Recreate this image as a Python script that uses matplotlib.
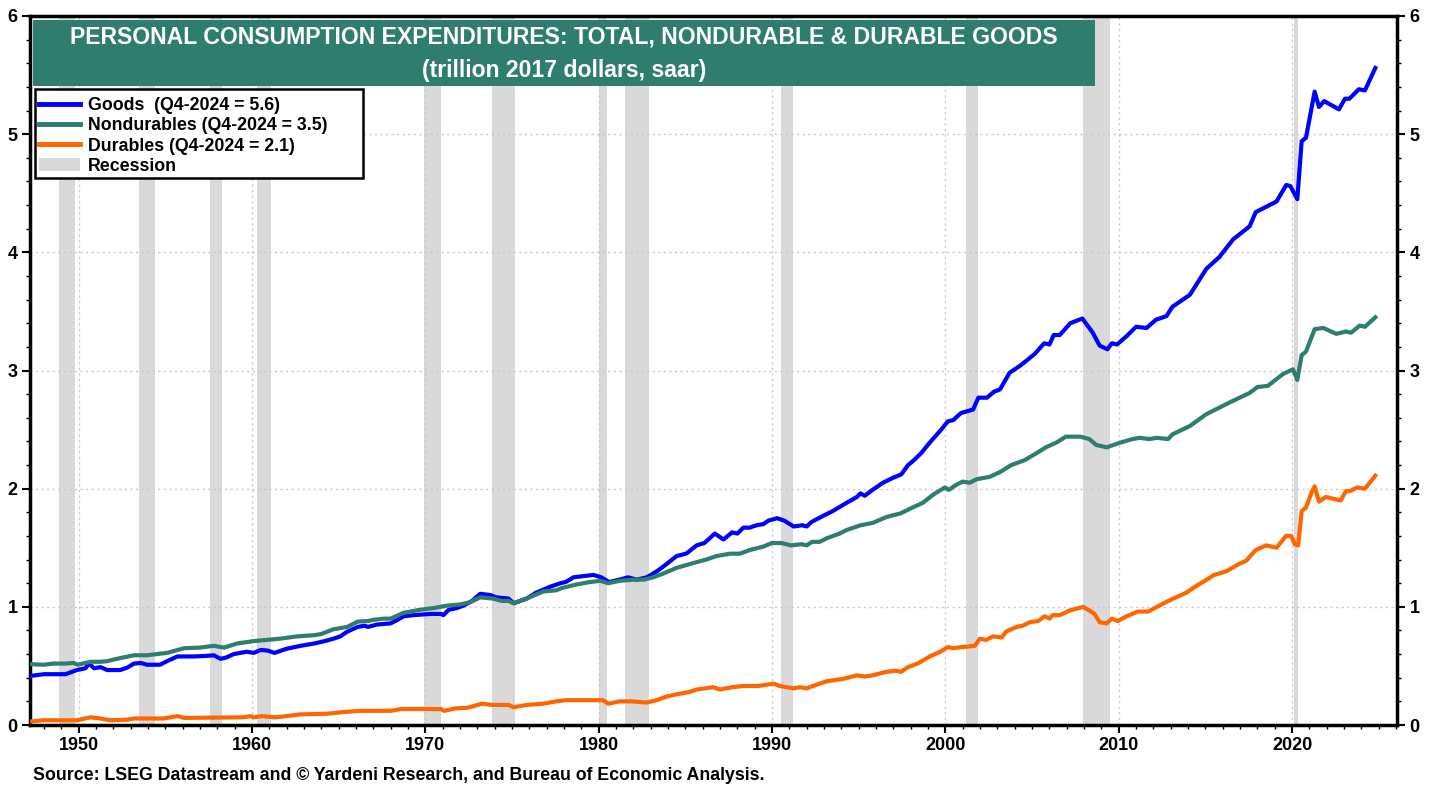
import matplotlib
matplotlib.use("Agg")
import matplotlib.pyplot as plt
import numpy as np
from matplotlib.lines import Line2D
from matplotlib.patches import Patch, Rectangle
from matplotlib.ticker import MultipleLocator

# (year, trillion 2017 dollars)
goods = [
    (1947.2, 0.415), (1948.0, 0.43), (1949.25, 0.43), (1949.9, 0.465), (1950.4, 0.48),
    (1950.6, 0.52), (1950.9, 0.48), (1951.27, 0.49), (1951.65, 0.465), (1952.4, 0.465),
    (1952.8, 0.485), (1953.2, 0.52), (1953.6, 0.525), (1953.95, 0.51), (1954.7, 0.51),
    (1955.1, 0.54), (1955.7, 0.58), (1956.65, 0.58), (1957.4, 0.585), (1957.8, 0.59),
    (1958.2, 0.56), (1958.5, 0.57), (1958.95, 0.60), (1959.7, 0.62), (1960.1, 0.61),
    (1960.5, 0.635), (1960.9, 0.63), (1961.3, 0.61), (1962.0, 0.645), (1962.8, 0.67),
    (1963.6, 0.69), (1964.2, 0.71), (1964.7, 0.73), (1965.1, 0.75), (1965.5, 0.79),
    (1966.1, 0.83), (1966.5, 0.84), (1966.7, 0.83), (1967.2, 0.85), (1968.0, 0.86),
    (1968.4, 0.89), (1968.75, 0.92), (1969.35, 0.93), (1970.3, 0.94), (1970.9, 0.94),
    (1971.05, 0.93), (1971.35, 0.975), (1971.83, 0.99), (1972.2, 1.01), (1972.7, 1.05),
    (1973.17, 1.11), (1973.75, 1.10), (1974.1, 1.08), (1974.8, 1.07), (1975.1, 1.03),
    (1975.85, 1.07), (1976.4, 1.12), (1977.2, 1.17), (1977.8, 1.20), (1978.1, 1.21),
    (1978.55, 1.25), (1979.1, 1.26), (1979.7, 1.27), (1980.15, 1.25), (1980.6, 1.21),
    (1981.2, 1.23), (1981.7, 1.25), (1982.2, 1.23), (1982.78, 1.25), (1983.35, 1.30),
    (1983.9, 1.36), (1984.5, 1.43), (1985.05, 1.45), (1985.65, 1.52), (1986.1, 1.54),
    (1986.7, 1.62), (1987.2, 1.57), (1987.7, 1.63), (1988.0, 1.62), (1988.35, 1.67),
    (1988.7, 1.67), (1989.1, 1.69), (1989.5, 1.70), (1989.8, 1.73), (1990.3, 1.75),
    (1990.7, 1.73), (1991.25, 1.68), (1991.75, 1.69), (1992.0, 1.68), (1992.3, 1.72),
    (1992.95, 1.77), (1993.5, 1.81), (1994.3, 1.88), (1994.9, 1.93), (1995.1, 1.96),
    (1995.35, 1.94), (1995.8, 1.99), (1996.4, 2.05), (1996.95, 2.09), (1997.45, 2.12),
    (1997.85, 2.20), (1998.1, 2.23), (1998.6, 2.30), (1999.1, 2.39), (1999.7, 2.49),
    (2000.15, 2.57), (2000.45, 2.58), (2000.9, 2.64), (2001.6, 2.67), (2001.9, 2.77),
    (2002.4, 2.77), (2002.8, 2.82), (2003.15, 2.84), (2003.7, 2.98), (2004.4, 3.05),
    (2005.15, 3.14), (2005.7, 3.23), (2006.0, 3.22), (2006.25, 3.30), (2006.6, 3.30),
    (2007.2, 3.40), (2007.9, 3.44), (2008.2, 3.38), (2008.5, 3.32), (2008.9, 3.21),
    (2009.35, 3.18), (2009.6, 3.23), (2009.9, 3.22), (2010.45, 3.29), (2011.0, 3.37),
    (2011.6, 3.36), (2012.15, 3.43), (2012.75, 3.46), (2013.1, 3.54), (2014.1, 3.64),
    (2015.05, 3.86), (2015.8, 3.96), (2016.6, 4.11), (2017.55, 4.22), (2017.9, 4.34),
    (2019.1, 4.43), (2019.66, 4.57), (2019.9, 4.56), (2020.3, 4.45), (2020.55, 4.94),
    (2020.8, 4.97), (2021.3, 5.36), (2021.55, 5.23), (2021.85, 5.28), (2022.7, 5.21),
    (2023.05, 5.30), (2023.3, 5.30), (2023.85, 5.38), (2024.2, 5.37), (2024.8, 5.56),
]

nondurables = [
    (1947.2, 0.515), (1948.0, 0.51), (1948.55, 0.52), (1949.3, 0.52), (1949.7, 0.525),
    (1949.95, 0.51), (1950.7, 0.535), (1951.27, 0.535), (1951.65, 0.54), (1952.2, 0.56),
    (1953.2, 0.59), (1953.95, 0.59), (1954.5, 0.60), (1955.1, 0.61), (1956.1, 0.65),
    (1957.0, 0.655), (1957.8, 0.67), (1958.4, 0.655), (1959.15, 0.69), (1960.1, 0.71),
    (1960.85, 0.72), (1961.6, 0.73), (1962.6, 0.75), (1963.6, 0.76), (1964.0, 0.77),
    (1964.7, 0.81), (1965.5, 0.83), (1966.1, 0.875), (1966.7, 0.88), (1967.0, 0.89),
    (1967.6, 0.90), (1968.0, 0.90), (1968.75, 0.95), (1969.7, 0.975), (1970.5, 0.99),
    (1971.25, 1.01), (1972.0, 1.02), (1972.6, 1.04), (1973.17, 1.08), (1973.9, 1.07),
    (1974.4, 1.05), (1974.8, 1.05), (1975.1, 1.03), (1975.85, 1.07), (1976.8, 1.13),
    (1977.55, 1.14), (1977.9, 1.16), (1978.75, 1.19), (1979.5, 1.21), (1980.1, 1.22),
    (1980.56, 1.20), (1981.2, 1.22), (1982.0, 1.23), (1982.6, 1.23), (1983.15, 1.25),
    (1983.7, 1.28), (1984.5, 1.33), (1985.45, 1.37), (1986.2, 1.40), (1986.8, 1.43),
    (1987.6, 1.45), (1988.15, 1.45), (1988.7, 1.48), (1989.5, 1.51), (1990.0, 1.54),
    (1990.55, 1.54), (1991.1, 1.52), (1991.7, 1.53), (1992.0, 1.52), (1992.3, 1.55),
    (1992.75, 1.55), (1993.15, 1.58), (1993.9, 1.62), (1994.3, 1.65), (1995.1, 1.69),
    (1995.8, 1.71), (1996.6, 1.76), (1997.4, 1.79), (1998.1, 1.84), (1998.7, 1.88),
    (1999.3, 1.95), (1999.97, 2.01), (2000.2, 1.99), (2000.6, 2.03), (2001.0, 2.06),
    (2001.4, 2.05), (2001.8, 2.08), (2002.55, 2.10), (2003.15, 2.14), (2003.8, 2.20),
    (2004.55, 2.24), (2005.25, 2.30), (2005.8, 2.35), (2006.4, 2.39), (2006.95, 2.44),
    (2007.8, 2.44), (2008.3, 2.42), (2008.7, 2.37), (2009.3, 2.35), (2010.1, 2.39),
    (2010.8, 2.42), (2011.2, 2.43), (2011.75, 2.42), (2012.2, 2.43), (2012.85, 2.42),
    (2013.1, 2.46), (2014.1, 2.53), (2015.05, 2.63), (2016.4, 2.73), (2017.55, 2.81),
    (2018.0, 2.86), (2018.6, 2.87), (2019.47, 2.97), (2020.05, 3.01), (2020.3, 2.92),
    (2020.55, 3.13), (2020.8, 3.16), (2021.3, 3.35), (2021.8, 3.36), (2022.55, 3.31),
    (2023.1, 3.33), (2023.4, 3.32), (2023.9, 3.38), (2024.2, 3.37), (2024.8, 3.45),
]

durables = [
    (1947.2, 0.03), (1948.0, 0.04), (1949.9, 0.04), (1950.7, 0.065), (1951.27, 0.055),
    (1951.85, 0.04), (1952.8, 0.045), (1953.2, 0.055), (1954.9, 0.055), (1955.7, 0.075),
    (1956.1, 0.06), (1959.5, 0.065), (1959.9, 0.075), (1960.1, 0.065), (1960.6, 0.075),
    (1961.3, 0.065), (1961.7, 0.07), (1962.8, 0.09), (1964.3, 0.095), (1965.3, 0.11),
    (1966.3, 0.12), (1968.0, 0.12), (1968.6, 0.135), (1970.9, 0.135), (1971.1, 0.12),
    (1971.7, 0.14), (1972.4, 0.145), (1973.27, 0.18), (1973.85, 0.17), (1974.8, 0.17),
    (1975.1, 0.15), (1975.85, 0.17), (1976.8, 0.18), (1977.55, 0.20), (1978.1, 0.21),
    (1979.5, 0.21), (1980.25, 0.21), (1980.56, 0.18), (1981.2, 0.20), (1981.9, 0.20),
    (1982.75, 0.19), (1983.35, 0.21), (1983.9, 0.24), (1984.5, 0.26), (1985.25, 0.28),
    (1985.65, 0.30), (1986.6, 0.32), (1987.0, 0.30), (1987.7, 0.32), (1988.35, 0.33),
    (1989.2, 0.33), (1990.1, 0.35), (1990.45, 0.33), (1991.25, 0.31), (1991.6, 0.32),
    (1992.0, 0.31), (1992.35, 0.33), (1993.15, 0.37), (1994.1, 0.39), (1994.9, 0.42),
    (1995.35, 0.41), (1995.8, 0.42), (1996.6, 0.45), (1997.15, 0.46), (1997.45, 0.45),
    (1997.85, 0.49), (1998.4, 0.52), (1999.1, 0.58), (1999.7, 0.62), (2000.15, 0.66),
    (2000.45, 0.65), (2001.0, 0.66), (2001.7, 0.67), (2001.99, 0.73), (2002.35, 0.72),
    (2002.75, 0.75), (2003.25, 0.74), (2003.5, 0.79), (2004.1, 0.83), (2004.45, 0.84),
    (2004.87, 0.87), (2005.35, 0.88), (2005.73, 0.92), (2006.0, 0.90), (2006.2, 0.93),
    (2006.6, 0.93), (2007.2, 0.97), (2007.95, 1.00), (2008.3, 0.97), (2008.6, 0.94),
    (2008.9, 0.87), (2009.3, 0.86), (2009.6, 0.90), (2009.95, 0.88), (2010.45, 0.92),
    (2011.1, 0.96), (2011.7, 0.96), (2012.2, 1.00), (2013.0, 1.06), (2013.9, 1.12),
    (2014.4, 1.17), (2014.85, 1.21), (2015.5, 1.27), (2016.2, 1.30), (2016.9, 1.36),
    (2017.35, 1.39), (2017.9, 1.48), (2018.5, 1.52), (2019.1, 1.50), (2019.65, 1.60),
    (2019.95, 1.60), (2020.15, 1.53), (2020.35, 1.52), (2020.55, 1.81), (2020.8, 1.84),
    (2021.1, 1.96), (2021.3, 2.02), (2021.55, 1.89), (2021.95, 1.93), (2022.8, 1.90),
    (2023.1, 1.98), (2023.35, 1.98), (2023.75, 2.01), (2024.2, 2.00), (2024.8, 2.11),
]

# NBER recessions (start, end) in fractional years
recessions = [
    (1948.85, 1949.8), (1953.5, 1954.4), (1957.6, 1958.3), (1960.3, 1961.1),
    (1969.95, 1970.9), (1973.85, 1975.2), (1980.0, 1980.5), (1981.5, 1982.9),
    (1990.5, 1991.2), (2001.2, 2001.9), (2007.95, 2009.5), (2020.1, 2020.35),
]

series = [
    ("Goods  (Q4-2024 = 5.6)", goods, "#0000FF"),
    ("Nondurables (Q4-2024 = 3.5)", nondurables, "#2E7D6E"),
    ("Durables (Q4-2024 = 2.1)", durables, "#FF6600"),
]

plt.rcParams["font.family"] = ["Liberation Sans", "DejaVu Sans"]
plt.rcParams["font.weight"] = "bold"

W, H = 1439, 785
fig = plt.figure(figsize=(W / 100, H / 100), dpi=100)
ax = fig.add_axes([30 / W, 60 / H, 1367 / W, 709 / H])

for start, end in recessions:
    ax.axvspan(start, end, color="#D9D9D9", lw=0, zorder=1)

for label, data, color in series:
    arr = np.array(data)
    ax.plot(arr[:, 0], arr[:, 1], color=color, lw=3.0, zorder=3, solid_joinstyle="round")

ax.set_xlim(1947.2, 2026.05)
ax.set_ylim(0, 6)
ax.xaxis.set_major_locator(MultipleLocator(10))
ax.xaxis.set_minor_locator(MultipleLocator(1))
ax.yaxis.set_major_locator(MultipleLocator(1))
ax.yaxis.set_minor_locator(MultipleLocator(0.2))
ax.grid(True, which="major", color="#C8C8C8", ls=(0, (1.5, 2.5)), lw=1.0, zorder=2)

ax.tick_params(axis="y", which="both", left=True, right=True,
               labelleft=True, labelright=True, direction="out")
ax.tick_params(axis="both", which="major", length=6, width=1.5, labelsize=13, pad=3)
ax.tick_params(axis="both", which="minor", length=3, width=1.0)
for sp in ax.spines.values():
    sp.set_linewidth(2.5)


def px_ax(x, y):
    """Pixel position in the reference image -> axes fraction."""
    return (x - 30) / 1367, (725 - y) / 709


# title banner
x0, y0 = px_ax(33, 86)
x1, y1 = px_ax(1095, 20)
ax.add_patch(Rectangle((x0, y0), x1 - x0, y1 - y0, transform=ax.transAxes,
                       fc="#2E7D6E", ec="none", zorder=5))
ax.text(*px_ax(564, 37), "PERSONAL CONSUMPTION EXPENDITURES: TOTAL, NONDURABLE & DURABLE GOODS",
        transform=ax.transAxes, ha="center", va="center", color="white",
        fontsize=16.6, fontweight="bold", zorder=6)
ax.text(*px_ax(564, 70), "(trillion 2017 dollars, saar)", transform=ax.transAxes,
        ha="center", va="center", color="white", fontsize=16.6, fontweight="bold", zorder=6)

# legend with its own frame
lx0, ly0 = px_ax(35, 178)
lx1, ly1 = px_ax(363, 89)
ax.add_patch(Rectangle((lx0, ly0), lx1 - lx0, ly1 - ly0, transform=ax.transAxes,
                       fc="white", ec="black", lw=1.8, zorder=6))
handles = [Line2D([], [], color=c, lw=3.5) for _, _, c in series]
handles.append(Patch(facecolor="#D9D9D9", edgecolor="none"))
labels = [lab for lab, _, _ in series] + ["Recession"]
leg = ax.legend(handles, labels, loc="upper left", bbox_to_anchor=px_ax(37, 95),
                borderaxespad=0, frameon=False,
                prop={"size": 12.8, "weight": "bold"}, handlelength=2.3,
                handletextpad=0.45, labelspacing=0.19, borderpad=0.1)
leg.set_zorder(7)

fig.text(33 / W, 1 - 775 / H,
         "Source: LSEG Datastream and \u00a9 Yardeni Research, and Bureau of Economic Analysis.",
         ha="left", va="center", fontsize=12.8, fontweight="bold")

fig.savefig("out.png", dpi=100)
